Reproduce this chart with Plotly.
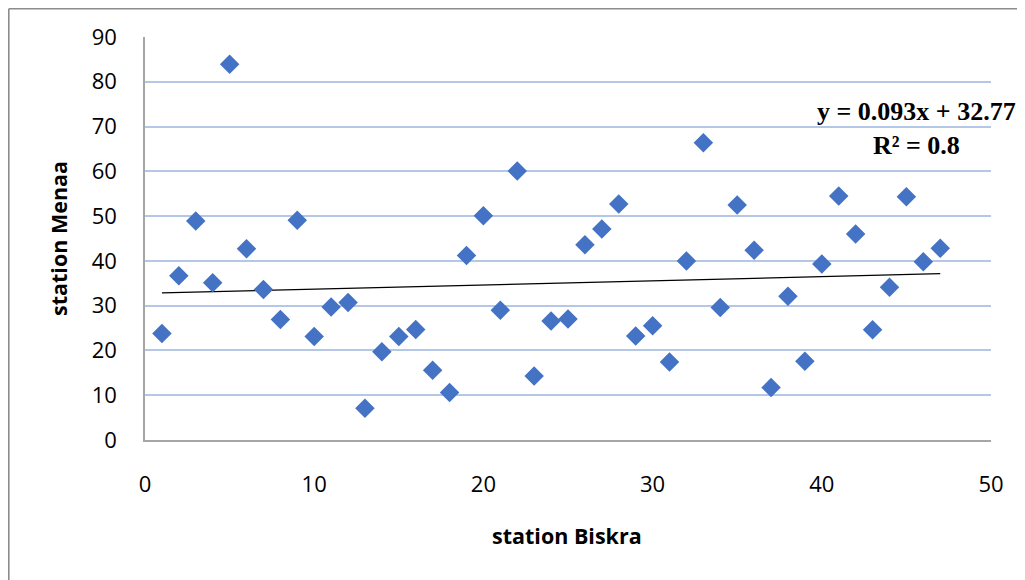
import plotly.graph_objects as go

# Data
station_biskra = list(range(1, 48))
station_menaa = [23.8, 36.7, 48.9, 35.1, 83.9, 42.7, 33.6, 26.9, 49.1, 23.1,
                 29.7, 30.7, 7.1, 19.7, 23.1, 24.7, 15.6, 10.6, 41.2, 50.1,
                 29.0, 60.1, 14.3, 26.6, 27.0, 43.6, 47.1, 52.7, 23.2, 25.5,
                 17.4, 40.0, 66.4, 29.6, 52.5, 42.4, 11.7, 32.1, 17.6, 39.3,
                 54.5, 46.0, 24.6, 34.1, 54.3, 39.8, 42.8]
trend_slope = 0.093
trend_intercept = 32.77
trend_label = "y = 0.093x + 32.77<br>R² = 0.8"
x_ticks = [0, 10, 20, 30, 40, 50]
y_ticks = [0, 10, 20, 30, 40, 50, 60, 70, 80, 90]

trend_x = [station_biskra[0], station_biskra[-1]]
trend_y = [trend_slope * v + trend_intercept for v in trend_x]

OFF = 8  # browser body margin
W, H = 1025 - OFF, 580 - OFF
L, T = 145 - OFF, 37 - OFF
pw, ph = 846, 403
R = W - L - pw
B = H - T - ph


def px(xp):
    return (xp - 145) / pw


def py(yp):
    return (440 - yp) / ph


fig = go.Figure()
fig.add_trace(go.Scatter(x=trend_x, y=trend_y, mode="lines",
                         line=dict(color="black", width=1.2), showlegend=False,
                         hoverinfo="skip"))
fig.add_trace(go.Scatter(x=station_biskra, y=station_menaa, mode="markers",
                         marker=dict(symbol="diamond", size=15, color="#4472C4",
                                     line=dict(width=0)),
                         showlegend=False))

edge = OFF + 0.8
fig.update_layout(
    width=W, height=H,
    margin=dict(l=L, r=R, t=T, b=B, pad=0),
    paper_bgcolor="white", plot_bgcolor="white",
    font=dict(family="Open Sans", size=22, color="black"),
    xaxis=dict(range=[0, 50], tickvals=x_ticks, showgrid=False, zeroline=False,
               showline=True, linecolor="#A6A6A6", linewidth=1.5, ticks="",
               ticklabelstandoff=24, tickfont=dict(size=22, family="Open Sans")),
    yaxis=dict(range=[0, 90], tickvals=y_ticks, showgrid=True,
               gridcolor="#B4C7E7", gridwidth=2, zeroline=False,
               showline=True, linecolor="#A6A6A6", linewidth=1.5, ticks="",
               ticklabelstandoff=22, tickfont=dict(size=22, family="Open Sans")),
    annotations=[
        dict(text="<b>station Biskra</b>", xref="paper", yref="paper",
             x=px(567), y=py(535), showarrow=False,
             font=dict(size=21.5, family="Open Sans"), xanchor="center", yanchor="middle"),
        dict(text="<b>station Menaa</b>", xref="paper", yref="paper",
             x=px(58), y=py(239), showarrow=False, textangle=-90,
             font=dict(size=21.5, family="Open Sans"), xanchor="center", yanchor="middle"),
        dict(text="<b>" + trend_label + "</b>", xref="paper", yref="paper",
             x=px(916), y=py(128), showarrow=False, align="center",
             font=dict(size=26, family="Liberation Serif"), xanchor="center", yanchor="middle"),
    ],
    shapes=[
        dict(type="line", xref="paper", yref="paper",
             x0=px(edge), x1=px(edge), y0=py(edge), y1=py(600),
             line=dict(color="#8C8C8C", width=1.6)),
        dict(type="line", xref="paper", yref="paper",
             x0=px(edge), x1=px(1040), y0=py(edge), y1=py(edge),
             line=dict(color="#8C8C8C", width=1.6)),
    ],
)

fig.write_html("out.html")
